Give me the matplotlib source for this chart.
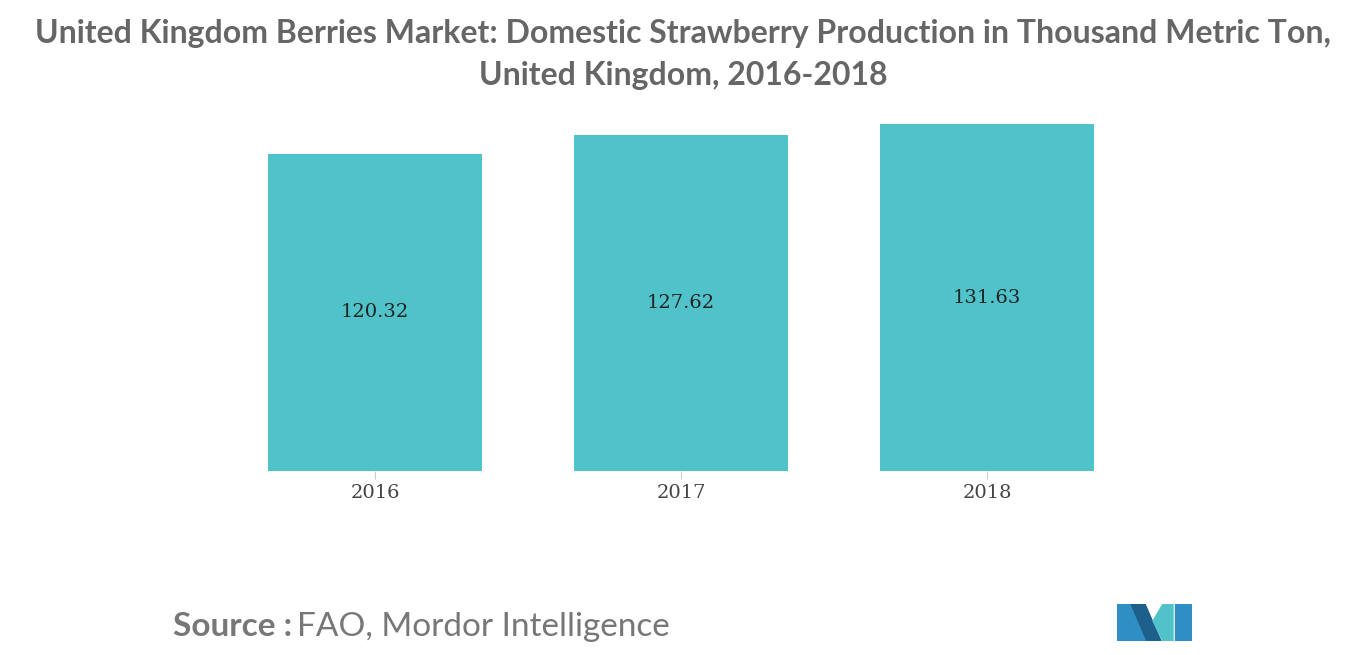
import matplotlib
matplotlib.use("Agg")
import matplotlib.pyplot as plt
from matplotlib.patches import Polygon

years = ["2016", "2017", "2018"]
values = [120.32, 127.62, 131.63]
labels = ["120.32", "127.62", "131.63"]

W, H = 1366, 655
fig = plt.figure(figsize=(W/100, H/100), dpi=100)
ax = fig.add_axes([222/W, 1-471/H, 918/W, 370/H])
x = range(len(years))
ax.bar(x, values, width=0.70, color="#50C3CA")
for i, (v, l) in enumerate(zip(values, labels)):
    ax.text(i, v/2, l, ha="center", va="center", fontsize=14, family="DejaVu Serif", color="#222222")
ax.set_xlim(-0.5, 2.5)
ax.set_ylim(0, 370/2.635)
ax.set_xticks(list(x))
ax.set_xticklabels(years, family="DejaVu Serif", fontsize=14, color="#444444")
ax.tick_params(axis="x", length=6, color="#cccccc")
ax.set_yticks([])
for s in ["left", "right", "top", "bottom"]:
    ax.spines[s].set_visible(False)

fig.text(0.5, 1-33/H, "United Kingdom Berries Market: Domestic Strawberry Production in Thousand Metric Ton,",
         ha="center", va="center", fontsize=23, color="#666666", family="Lato", weight="bold")
fig.text(0.5, 1-76/H, "United Kingdom, 2016-2018",
         ha="center", va="center", fontsize=23, color="#666666", family="Lato", weight="bold")
fig.text(173/W, 1-627/H, "Source :", ha="left", va="center", fontsize=24, color="#777777", family="Lato", weight="bold")
fig.text(297/W, 1-627/H, "FAO, Mordor Intelligence", ha="left", va="center", fontsize=24, color="#777777", family="Lato")

lax = fig.add_axes([1117/W, 1-641/H, 75/W, 37/H])
lax.set_xlim(0, 75); lax.set_ylim(0, 37); lax.axis("off")
lax.add_patch(Polygon([[0,0],[0,37],[14,37],[30,0]], color="#2F8FC4"))
lax.add_patch(Polygon([[14,37],[30,0],[44,0],[28,37]], color="#1F5F8B"))
lax.add_patch(Polygon([[36,20],[46,0],[56,0],[56,37],[46,37]], color="#50C3CA"))
lax.add_patch(Polygon([[58,0],[58,37],[75,37],[75,0]], color="#2F8FC4"))
fig.savefig("out.png", dpi=100)
